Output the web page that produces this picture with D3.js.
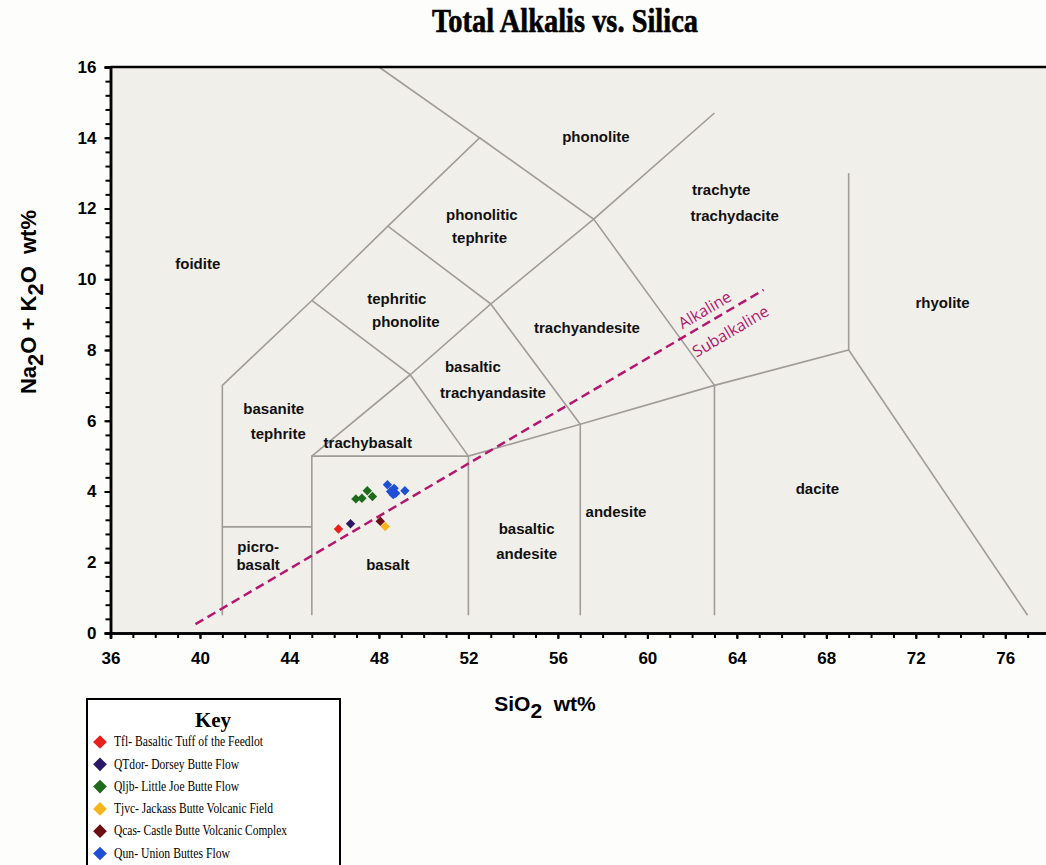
<!DOCTYPE html>
<html>
<head>
<meta charset="utf-8">
<script src="https://cdn.jsdelivr.net/npm/d3@7"></script>
<style>
  body { margin: 0; background: #fdfdfb; }
  svg { display: block; }
</style>
</head>
<body>
<div id="chart"></div>
<script>
// TAS field boundaries (SiO2, Na2O+K2O)
const boundaries = [
    [[41, 0.5], [41, 7], [45, 9.4], [48.4, 11.5], [52.5, 14], [48, 16]],
    [[41, 3], [45, 3]],
    [[45, 0.5], [45, 5], [52, 5], [57, 5.9], [63, 7], [69, 8], [77, 0.5]],
    [[52, 0.5], [52, 5]],
    [[57, 0.5], [57, 5.9]],
    [[63, 0.5], [63, 7]],
    [[69, 8], [69, 13]],
    [[45, 5], [49.4, 7.3], [52, 5]],
    [[45, 9.4], [49.4, 7.3], [53, 9.3], [57, 5.9]],
    [[48.4, 11.5], [53, 9.3], [57.6, 11.7], [63, 7]],
    [[52.5, 14], [57.6, 11.7], [63, 14.7]]
];

// alkaline / subalkaline divide
const alkalineLine = [[39.8, 0.25], [65.2, 9.7]];
const divideLabels = ["Alkaline", "Subalkaline"];
const divideX = [62.6, 63.75];
const divideY = [9.1, 8.5];

const fieldNames = ["phonolite", "trachyte", "trachydacite", "phonolitic", "tephrite", "foidite",
    "tephritic", "phonolite", "trachyandesite", "rhyolite", "basaltic", "trachyandasite",
    "basanite", "tephrite", "trachybasalt", "dacite", "basaltic", "andesite", "andesite",
    "picro-", "basalt", "basalt"];
const fieldX = [57.7, 63.3, 63.9, 52.6, 52.5, 39.9, 48.8, 49.2, 57.3, 73.2, 52.2, 53.1,
    43.3, 43.5, 47.5, 67.6, 54.6, 54.6, 58.6, 42.6, 42.6, 48.4];
const fieldY = [14.0, 12.5, 11.75, 11.8, 11.15, 10.4, 9.4, 8.75, 8.6, 9.3, 7.5, 6.75,
    6.3, 5.6, 5.35, 4.05, 2.9, 2.2, 3.4, 2.4, 1.9, 1.9];

// sample groups
const groups = ["Tfl- Basaltic Tuff of the Feedlot", "QTdor- Dorsey Butte Flow",
    "Qljb- Little Joe Butte Flow", "Tjvc- Jackass Butte Volcanic Field",
    "Qcas- Castle Butte Volcanic Complex", "Qun- Union Buttes Flow"];
const groupColors = ["#e8201c", "#2b1868", "#1f6b1c", "#f7b51c", "#6a0f12", "#1f4fd6"];
const keyTextWidths = [149, 125, 125, 159, 173, 116];

const samples = [
    { g: 0, si: 46.19, alk: 2.94 },
    { g: 1, si: 46.73, alk: 3.09 },
    { g: 2, si: 46.97, alk: 3.79 },
    { g: 2, si: 47.24, alk: 3.81 },
    { g: 2, si: 47.48, alk: 4.02 },
    { g: 2, si: 47.71, alk: 3.86 },
    { g: 3, si: 48.28, alk: 3.01 },
    { g: 4, si: 48.06, alk: 3.16 },
    { g: 5, si: 48.38, alk: 4.19 },
    { g: 5, si: 48.68, alk: 4.09 },
    { g: 5, si: 48.52, alk: 4.00 },
    { g: 5, si: 48.64, alk: 3.91 },
    { g: 5, si: 48.75, alk: 3.95 },
    { g: 5, si: 49.16, alk: 4.02 }
];

const width = 1046, height = 865;
const margin = { top: 67, right: -4, bottom: 232, left: 110.5 };

const svg = d3.select("#chart").append("svg")
    .attr("width", width)
    .attr("height", height)
    .style("font-family", "'Liberation Sans', Arial, sans-serif");

const x = d3.scaleLinear().domain([36, 78]).range([margin.left, width - margin.right]);
const y = d3.scaleLinear().domain([0, 16]).range([height - margin.bottom, margin.top]);

// plot background
svg.append("rect")
    .attr("x", x(36)).attr("y", y(16))
    .attr("width", x(78) - x(36)).attr("height", y(0) - y(16))
    .attr("fill", "#f1efea");

// title
svg.append("text")
    .attr("x", 565).attr("y", 32)
    .attr("text-anchor", "middle")
    .attr("textLength", 266)
    .attr("lengthAdjust", "spacingAndGlyphs")
    .style("font-family", "'Liberation Serif', 'DejaVu Serif', serif")
    .style("font-weight", "bold")
    .style("font-size", "33px")
    .style("stroke", "#000").style("stroke-width", 0.6)
    .text("Total Alkalis vs. Silica");

// field boundaries
const line = d3.line().x(d => x(d[0])).y(d => y(d[1]));
svg.append("g")
    .selectAll("path")
    .data(boundaries)
    .join("path")
    .attr("d", line)
    .attr("fill", "none")
    .attr("stroke", "#a09c9a")
    .attr("stroke-width", 1.6);

// alkaline divide
svg.append("path")
    .attr("d", line(alkalineLine))
    .attr("fill", "none")
    .attr("stroke", "#b3176f")
    .attr("stroke-width", 2.5)
    .attr("stroke-dasharray", "9 5");

const ang = Math.atan2(y(alkalineLine[1][1]) - y(alkalineLine[0][1]),
    x(alkalineLine[1][0]) - x(alkalineLine[0][0])) * 180 / Math.PI;

svg.append("g")
    .selectAll("text")
    .data(divideLabels)
    .join("text")
    .attr("transform", (d, i) => `translate(${x(divideX[i])},${y(divideY[i])}) rotate(${ang})`)
    .attr("text-anchor", "middle")
    .attr("dominant-baseline", "middle")
    .style("font-family", "'Open Sans', sans-serif")
    .style("font-size", "16px")
    .attr("fill", "#b3176f")
    .text(d => d);

// field names
svg.append("g")
    .selectAll("text")
    .data(fieldNames)
    .join("text")
    .attr("x", (d, i) => x(fieldX[i]))
    .attr("y", (d, i) => y(fieldY[i]))
    .attr("text-anchor", "middle")
    .attr("dominant-baseline", "middle")
    .style("font-weight", "bold")
    .style("font-size", "15px")
    .attr("fill", "#111")
    .text(d => d);

// points
svg.append("g")
    .selectAll("path")
    .data(samples)
    .join("path")
    .attr("d", d3.symbol(d3.symbolDiamond2, 56))
    .attr("transform", d => `translate(${x(d.si)},${y(d.alk)})`)
    .attr("fill", d => groupColors[d.g]);

// axes
const xMinor = svg.append("g")
    .attr("transform", `translate(0,${y(0)})`)
    .call(d3.axisBottom(x).tickValues(d3.range(36, 79, 1)).tickSize(5).tickFormat(""));
const xMajor = svg.append("g")
    .attr("transform", `translate(0,${y(0)})`)
    .call(d3.axisBottom(x).tickValues(d3.range(36, 77, 4)).tickSize(6).tickPadding(13));

const yMinor = svg.append("g")
    .attr("transform", `translate(${x(36)},0)`)
    .call(d3.axisLeft(y).tickValues(d3.range(0, 16.01, 0.4)).tickSize(5).tickFormat(""));
const yMajor = svg.append("g")
    .attr("transform", `translate(${x(36)},0)`)
    .call(d3.axisLeft(y).tickValues(d3.range(0, 17, 2)).tickSize(6).tickPadding(8));

[xMinor, xMajor, yMinor, yMajor].forEach(a => {
    a.select(".domain").attr("stroke", "#000").attr("stroke-width", 2.5);
    a.selectAll(".tick line").attr("stroke", "#000").attr("stroke-width", 2);
    a.selectAll(".tick text")
        .style("font-family", "'Liberation Sans', Arial, sans-serif")
        .style("font-weight", "bold")
        .style("font-size", "17px")
        .attr("fill", "#000");
});

// top frame
svg.append("line")
    .attr("x1", x(36)).attr("x2", x(78))
    .attr("y1", y(16)).attr("y2", y(16))
    .attr("stroke", "#000").attr("stroke-width", 2.5);

// axis titles
const xt = svg.append("text")
    .attr("x", 545).attr("y", 711)
    .attr("text-anchor", "middle")
    .style("font-weight", "bold")
    .style("font-size", "21px");
xt.append("tspan").text("SiO");
xt.append("tspan").attr("dy", 7).text("2");
xt.append("tspan").attr("dy", -7).text("\u00a0 wt%");

const yt = svg.append("text")
    .attr("transform", "translate(36,302) rotate(-90)")
    .attr("text-anchor", "middle")
    .style("font-weight", "bold")
    .style("font-size", "22px");
yt.append("tspan").text("Na");
yt.append("tspan").attr("dy", 7).text("2");
yt.append("tspan").attr("dy", -7).text("O + K");
yt.append("tspan").attr("dy", 7).text("2");
yt.append("tspan").attr("dy", -7).text("O\u00a0 wt%");

// key
const key = svg.append("g").attr("transform", "translate(87,699)");
key.append("rect")
    .attr("width", 253).attr("height", 180)
    .attr("fill", "#fff")
    .attr("stroke", "#000").attr("stroke-width", 2);
key.append("text")
    .attr("x", 126).attr("y", 28)
    .attr("text-anchor", "middle")
    .style("font-family", "'Liberation Serif', serif")
    .style("font-weight", "bold")
    .style("font-size", "21px")
    .text("Key");

const items = key.selectAll("g.item")
    .data(groups)
    .join("g")
    .attr("class", "item")
    .attr("transform", (d, i) => `translate(13,${43 + i * 22.3})`);
items.append("path")
    .attr("d", d3.symbol(d3.symbolDiamond2, 120))
    .attr("fill", (d, i) => groupColors[i]);
items.append("text")
    .attr("x", 14).attr("y", 1)
    .attr("dominant-baseline", "middle")
    .style("font-family", "'Liberation Serif', serif")
    .style("font-size", "14px")
    .attr("textLength", (d, i) => keyTextWidths[i])
    .attr("lengthAdjust", "spacingAndGlyphs")
    .text(d => d);
</script>
</body>
</html>
